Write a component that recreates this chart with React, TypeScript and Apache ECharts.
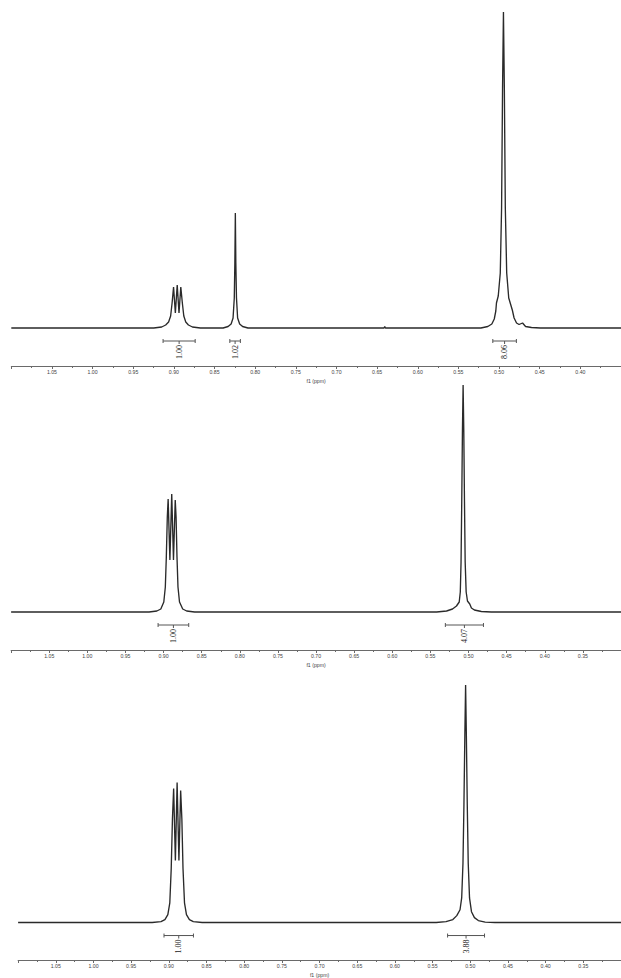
import React, { useEffect, useRef } from "react";
import * as echarts from "echarts";

// ---- Spectrum traces: [chemical shift (ppm), intensity] ----
const spectrumTop: [number, number][] = [
  [1.1, 0], [0.9248, 0], [0.915, 1], [0.9101, 3], [0.9065, 6], [0.904, 12], [0.9022, 25],
  [0.9004, 41], [0.8982, 15], [0.8959, 43], [0.8937, 15], [0.8915, 41], [0.8896, 25],
  [0.8878, 12], [0.8854, 6], [0.8821, 3], [0.8772, 1], [0.8674, 0],
  [0.8394, 0], [0.8333, 1.5], [0.8296, 4], [0.8272, 10], [0.8257, 30], [0.825, 65],
  [0.8244, 115], [0.8238, 65], [0.823, 30], [0.8216, 10], [0.8191, 4], [0.8155, 1.5], [0.8089, 0],
  [0.6415, 0], [0.6406, 1.5], [0.6398, 0],
  [0.5223, 0], [0.5138, 1.5], [0.5089, 4], [0.5059, 9], [0.504, 17], [0.5032, 25], [0.501, 32],
  [0.4985, 55], [0.4969, 120], [0.4957, 240], [0.4946, 316], [0.4935, 240], [0.4923, 120],
  [0.4906, 55], [0.4881, 30], [0.4837, 18], [0.4815, 10], [0.4785, 5], [0.4754, 3.5],
  [0.4711, 5], [0.4674, 1.5], [0.4601, 0.5], [0.4491, 0], [0.35, 0],
];

const spectrumMiddle: [number, number][] = [
  [1.1, 0], [0.919, 0], [0.9088, 1], [0.9036, 3], [0.8997, 10], [0.8977, 25], [0.8964, 55],
  [0.8951, 95], [0.894, 113], [0.8917, 52], [0.8893, 118], [0.887, 52], [0.8847, 112],
  [0.8836, 95], [0.8824, 55], [0.8811, 25], [0.8791, 10], [0.8749, 3], [0.8697, 1], [0.8593, 0],
  [0.5418, 0], [0.5288, 1], [0.521, 3], [0.5158, 6], [0.5122, 10], [0.5108, 20], [0.5098, 50],
  [0.5089, 110], [0.508, 180], [0.5071, 227], [0.5062, 180], [0.5053, 110], [0.5044, 50],
  [0.5031, 20], [0.5014, 11], [0.4984, 8], [0.4962, 4], [0.4923, 2], [0.4832, 0.5], [0.4702, 0],
  [0.3, 0],
];

const spectrumBottom: [number, number][] = [
  [1.1, 0], [0.9221, 0], [0.9104, 1], [0.9052, 3], [0.9013, 8], [0.8987, 20], [0.8968, 55],
  [0.8952, 105], [0.8936, 136], [0.8913, 63], [0.889, 142], [0.8866, 63], [0.8843, 134],
  [0.8827, 105], [0.8812, 55], [0.8792, 20], [0.8766, 8], [0.8727, 3], [0.8675, 1], [0.8558, 0],
  [0.5452, 0], [0.5322, 1], [0.5231, 3], [0.5179, 7], [0.5136, 13], [0.5114, 25], [0.5097, 60],
  [0.5084, 120], [0.5072, 190], [0.5062, 241], [0.5052, 190], [0.504, 120], [0.5027, 60],
  [0.501, 25], [0.4984, 11], [0.4945, 5], [0.4893, 2], [0.4802, 0.5], [0.4672, 0], [0.3, 0],
];

// ---- Integration regions: [from ppm, to ppm] and their values ----
const integralRangesTop: [number, number][] = [[0.9133, 0.8738], [0.8312, 0.8182], [0.5077, 0.4787]];
const integralValuesTop: string[] = ["1.00", "1.02", "8.06"];
const integralRangesMiddle: [number, number][] = [[0.9072, 0.867], [0.5304, 0.4804]];
const integralValuesMiddle: string[] = ["1.00", "4.07"];
const integralRangesBottom: [number, number][] = [[0.9064, 0.8673], [0.5301, 0.4811]];
const integralValuesBottom: string[] = ["1.00", "3.88"];

// ---- Axis ranges ----
const ppmRanges: [number, number][] = [[0.35, 1.1], [0.3, 1.1], [0.3, 1.1]];
const intensityRanges: [number, number][] = [[-38, 316], [-38, 227], [-38, 241]];
const ppmTickStep = 0.05;
const axisTitle = "f1 (ppm)";

const spectra = [spectrumTop, spectrumMiddle, spectrumBottom];
const integralRanges = [integralRangesTop, integralRangesMiddle, integralRangesBottom];
const integralValues = [integralValuesTop, integralValuesMiddle, integralValuesBottom];

// layout (pixels)
const grids = [
  { left: 11.3, width: 615, top: 12, height: 354 },
  { left: 11.1, width: 614.6, top: 385, height: 265 },
  { left: 18.1, width: 615.6, top: 685, height: 279 },
];

const AXIS_COLOR = "#6a6a6a";
const LABEL_COLOR = "#444";
const TRACE_COLOR = "#2a2a2a";

export default function App() {
  const ref = useRef<HTMLDivElement>(null);

  useEffect(() => {
    if (!ref.current) return;
    const chart = echarts.init(ref.current, undefined, { renderer: "svg" });

    const xAxes = ppmRanges.map((r, i) => ({
      gridIndex: i,
      type: "value",
      inverse: true,
      min: r[0],
      max: r[1],
      interval: ppmTickStep,
      axisLine: { onZero: false, lineStyle: { color: AXIS_COLOR, width: 1 } },
      axisTick: { show: true, length: 3, lineStyle: { color: AXIS_COLOR, width: 1 } },
      minorTick: { show: true, splitNumber: 2, length: 2, lineStyle: { color: AXIS_COLOR, width: 1 } },
      splitLine: { show: false },
      axisLabel: {
        fontSize: 5.2,
        color: LABEL_COLOR,
        margin: 3,
        fontFamily: '"Liberation Sans", Arial, sans-serif',
        showMinLabel: false,
        showMaxLabel: false,
        formatter: (v: number) => v.toFixed(2),
      },
      name: axisTitle,
      nameLocation: "middle",
      nameGap: 12,
      nameTextStyle: { fontSize: 5.2, color: LABEL_COLOR, fontFamily: '"Liberation Sans", Arial, sans-serif' },
    }));

    const yAxes = intensityRanges.map((r, i) => ({
      gridIndex: i,
      type: "value",
      min: r[0],
      max: r[1],
      show: false,
    }));

    const lineSeries = spectra.map((s, i) => ({
      type: "line",
      xAxisIndex: i,
      yAxisIndex: i,
      data: s,
      showSymbol: false,
      symbol: "none",
      silent: true,
      lineStyle: { color: TRACE_COLOR, width: 1.35 },
    }));

    const integralSeries = integralRanges.map((ranges, i) => ({
      type: "custom",
      xAxisIndex: i,
      yAxisIndex: i,
      silent: true,
      encode: { x: [0, 1] },
      data: ranges,
      renderItem: (params: any, api: any) => {
        const a = api.coord([api.value(0), 0]);
        const b = api.coord([api.value(1), 0]);
        const y = a[1] + 13;
        const cx = (a[0] + b[0]) / 2;
        const stroke = { stroke: "#555", lineWidth: 1 };
        return {
          type: "group",
          children: [
            { type: "line", shape: { x1: a[0], y1: y, x2: b[0], y2: y }, style: stroke },
            { type: "line", shape: { x1: a[0], y1: y - 2, x2: a[0], y2: y + 2 }, style: stroke },
            { type: "line", shape: { x1: b[0], y1: y - 2, x2: b[0], y2: y + 2 }, style: stroke },
            { type: "line", shape: { x1: cx, y1: y, x2: cx, y2: y + 3 }, style: stroke },
            {
              type: "text",
              x: cx,
              y: y + 4,
              rotation: Math.PI / 2,
              style: {
                text: integralValues[i][params.dataIndex],
                align: "right",
                verticalAlign: "middle",
                fontSize: 8,
                fontFamily: '"Liberation Serif", "Times New Roman", serif',
                fill: "#222",
              },
            },
          ],
        };
      },
    }));

    chart.setOption({
      animation: false,
      backgroundColor: "#ffffff",
      grid: grids,
      xAxis: xAxes,
      yAxis: yAxes,
      series: [...lineSeries, ...integralSeries],
    });

    return () => chart.dispose();
  }, []);

  return (
    <div
      ref={ref}
      style={{ position: "fixed", left: 0, top: 0, width: "621px", height: "978px", background: "#fff" }}
    />
  );
}
